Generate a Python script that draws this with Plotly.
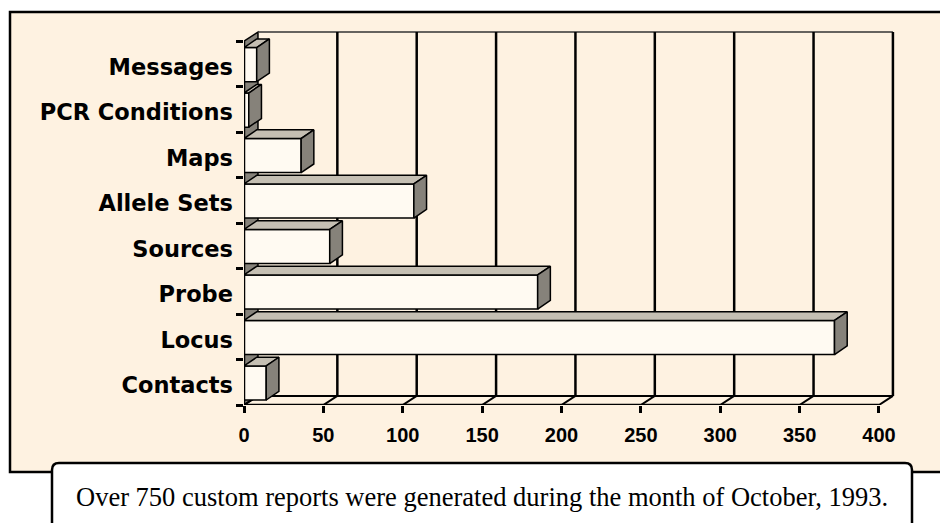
import plotly.graph_objects as go

# ---- data -------------------------------------------------------------
categories = ["Contacts", "Locus", "Probe", "Sources",
              "Allele Sets", "Maps", "PCR Conditions", "Messages"]
reports = [14, 372, 185, 54, 107, 36, 3, 8]
x_ticks = [0, 50, 100, 150, 200, 250, 300, 350, 400]
caption = "Over 750 custom reports were generated during the month of October, 1993."

# ---- style ------------------------------------------------------------
PANEL = "#FEF2E1"
FRONT = "#FFFAF2"
TOP = "#C5BFB3"
SIDE = "#86827A"
WALL = "#86827A"
INK = "black"

W, H = 940, 523
L, R, T, B = 244, 42, 23, 118
X_MAX, Y_MAX = 412, 8.4

# oblique "3-D" offsets in data units
WALL_DX, WALL_DY = 8.8, 0.2
BAR_DX, BAR_DY = 8.0, 0.19
BAR_LO, BAR_HI = 0.11, 0.86

n = len(categories)
x_end = x_ticks[-1]
PW, PH = W - L - R, H - T - B


def px(x):  # pixel column -> paper x
    return (x - L) / PW


def py(y):  # pixel row -> paper y
    return (H - B - y) / PH


fig = go.Figure()

# front faces of the bars
fig.add_trace(go.Bar(
    orientation="h",
    x=reports,
    y=[i + (BAR_LO + BAR_HI) / 2 for i in range(n)],
    width=BAR_HI - BAR_LO,
    base=0,
    marker=dict(color=FRONT, line=dict(color=INK, width=1.5)),
    hoverinfo="skip", showlegend=False,
))

# top and side faces of each bar
for i in range(n - 1, -1, -1):
    v = reports[i]
    lo, hi = i + BAR_LO, i + BAR_HI
    fig.add_trace(go.Scatter(
        x=[0, v, v + BAR_DX, BAR_DX, 0],
        y=[hi, hi, hi + BAR_DY, hi + BAR_DY, hi],
        mode="lines", fill="toself", fillcolor=TOP,
        line=dict(color=INK, width=1.5),
        hoverinfo="skip", showlegend=False, cliponaxis=False,
    ))
    fig.add_trace(go.Scatter(
        x=[v, v + BAR_DX, v + BAR_DX, v, v],
        y=[lo, lo + BAR_DY, hi + BAR_DY, hi, lo],
        mode="lines", fill="toself", fillcolor=SIDE,
        line=dict(color=INK, width=1.5),
        hoverinfo="skip", showlegend=False, cliponaxis=False,
    ))

# front axis lines
fig.add_trace(go.Scatter(
    x=[0, x_end, None, 0, 0], y=[0, 0, None, 0, n],
    mode="lines", line=dict(color=INK, width=2.5),
    hoverinfo="skip", showlegend=False, cliponaxis=False,
))

# carrier for the category label axis
fig.add_trace(go.Scatter(
    x=[0] * n, y=[i + 0.5 for i in range(n)], yaxis="y2",
    mode="markers", marker=dict(opacity=0),
    hoverinfo="skip", showlegend=False,
))

# ---- walls, floor and panels (drawn underneath) -------------------------
shapes = [
    dict(type="rect", xref="paper", yref="paper", layer="below",
         x0=px(10), x1=px(960), y0=py(472), y1=py(12),
         fillcolor=PANEL, line=dict(color=INK, width=2.5)),
]

# caption box with rounded top corners
bx0, bx1, byt, byb = px(52), px(912), py(463), py(545)
rx, ry = 7 / PW, 7 / PH
shapes.append(dict(
    type="path", xref="paper", yref="paper", layer="below",
    path=(f"M {bx0},{byb} L {bx0},{byt - ry} Q {bx0},{byt} {bx0 + rx},{byt} "
          f"L {bx1 - rx},{byt} Q {bx1},{byt} {bx1},{byt - ry} L {bx1},{byb} Z"),
    fillcolor="white", line=dict(color=INK, width=2.5)))

# left wall
shapes.append(dict(
    type="path", xref="x", yref="y", layer="below",
    path=(f"M 0,0 L 0,{n} L {WALL_DX},{n + WALL_DY} "
          f"L {WALL_DX},{WALL_DY} Z"),
    fillcolor=WALL, line=dict(color=INK, width=1.5)))

# back wall top edge and floor back edge
shapes.append(dict(type="line", xref="x", yref="y", layer="below",
                   x0=WALL_DX, x1=x_end + WALL_DX, y0=n + WALL_DY, y1=n + WALL_DY,
                   line=dict(color="#333333", width=1.5)))
shapes.append(dict(type="line", xref="x", yref="y", layer="below",
                   x0=WALL_DX, x1=x_end + WALL_DX, y0=WALL_DY, y1=WALL_DY,
                   line=dict(color=INK, width=2)))

# grid lines on the back wall and floor diagonals
for v in x_ticks:
    if v > 0:
        shapes.append(dict(type="line", xref="x", yref="y", layer="below",
                           x0=v + WALL_DX, x1=v + WALL_DX, y0=WALL_DY, y1=n + WALL_DY,
                           line=dict(color=INK, width=2.5)))
    shapes.append(dict(type="line", xref="x", yref="y", layer="below",
                       x0=v, x1=v + WALL_DX, y0=0, y1=WALL_DY,
                       line=dict(color=INK, width=2)))

fig.update_layout(
    width=W, height=H, autosize=False,
    margin=dict(l=L, r=R, t=T, b=B, pad=0),
    paper_bgcolor="white", plot_bgcolor="rgba(0,0,0,0)",
    shapes=shapes,
    xaxis=dict(range=[0, X_MAX], tickmode="array", tickvals=x_ticks,
               ticks="outside", ticklen=7, tickwidth=2.5, tickcolor=INK,
               showgrid=False, zeroline=False, showline=False,
               ticklabelstandoff=5,
               tickfont=dict(family="Liberation Sans", size=20, color=INK,
                             weight="bold")),
    yaxis=dict(range=[0, Y_MAX], tickmode="array", tickvals=list(range(n + 1)),
               ticks="outside", ticklen=7, tickwidth=2.5, tickcolor=INK,
               showticklabels=False, showgrid=False, zeroline=False,
               showline=False),
    yaxis2=dict(range=[0, Y_MAX], overlaying="y", anchor="x", side="left",
                tickmode="array",
                tickvals=[i + 0.43 for i in range(n)], ticktext=categories,
                ticks="", showgrid=False, zeroline=False, showline=False,
                ticklabelstandoff=10,
                tickfont=dict(family="DejaVu Sans", size=22.5, color=INK,
                              weight="bold")),
    annotations=[dict(
        text=caption, xref="paper", yref="paper",
        x=px(482), y=py(497), xanchor="center", yanchor="middle",
        showarrow=False,
        font=dict(family="Liberation Serif", size=26.5, color=INK))],
)

fig.write_html("out.html")
